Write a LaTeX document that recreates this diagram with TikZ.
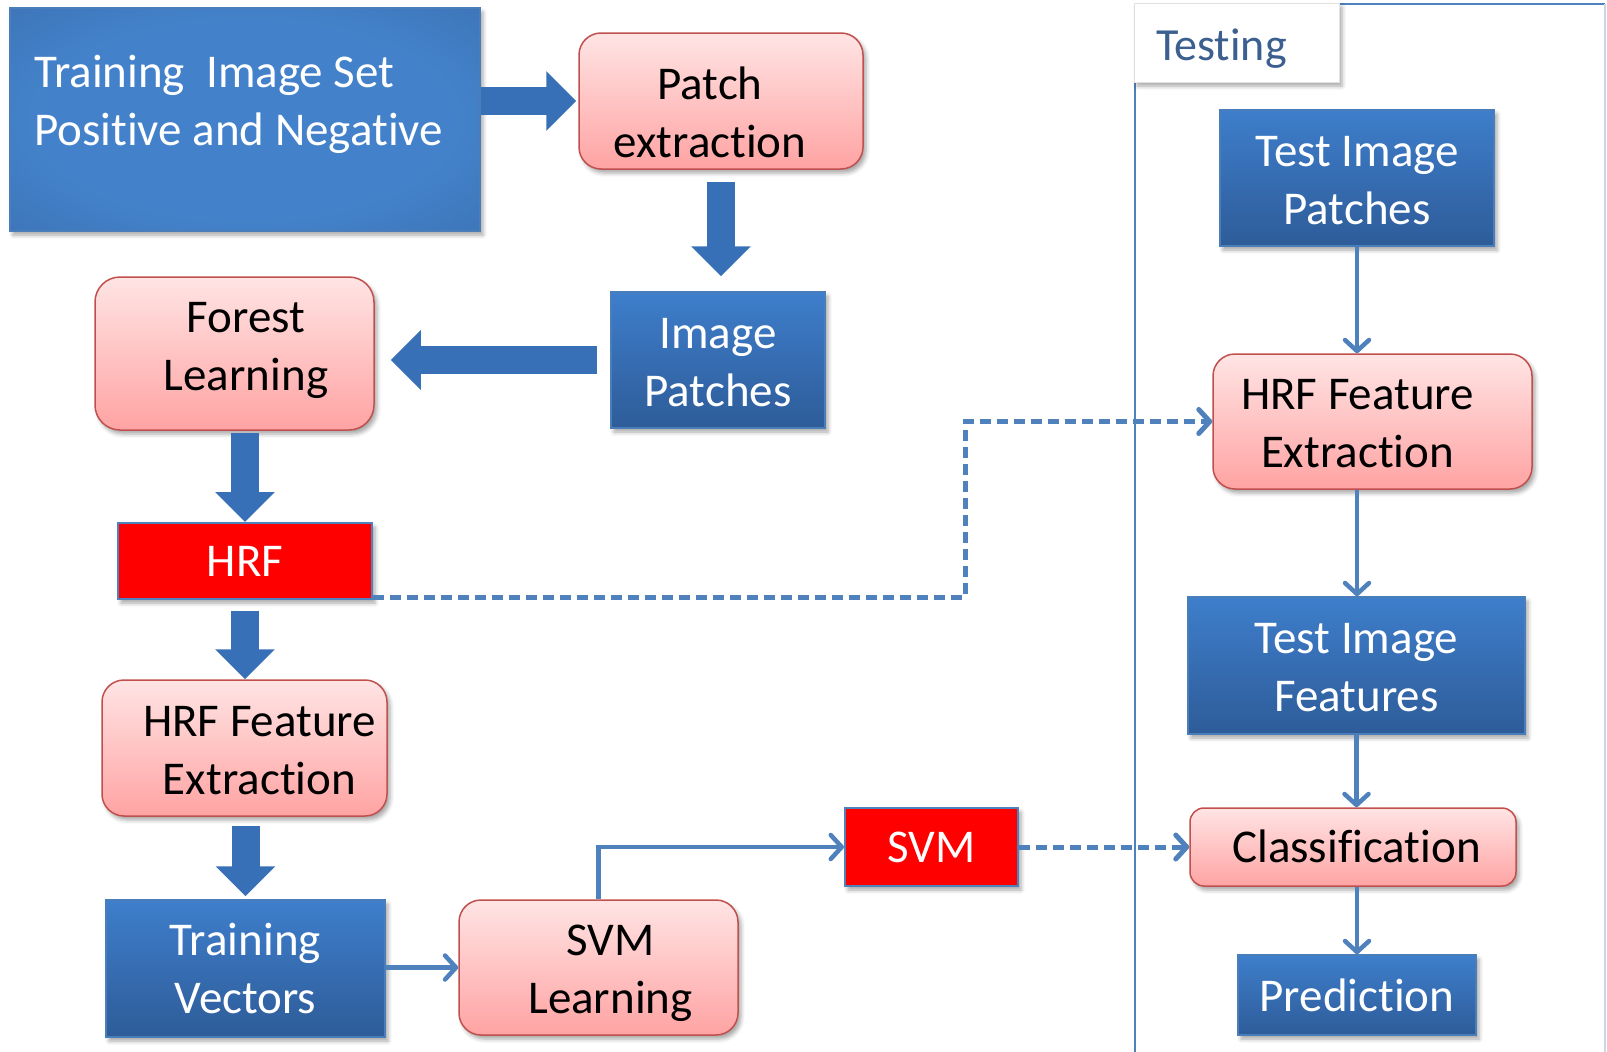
\documentclass[tikz,border=0pt]{standalone}
\usepackage{fontspec}
\setmainfont{Carlito}[RawFeature={-liga;-clig;-calt;-dlig}]
\usetikzlibrary{arrows.meta,calc,shadows.blur}
\definecolor{bluetop}{RGB}{62,126,203}
\definecolor{bluebot}{RGB}{46,92,153}
\definecolor{blueedge}{RGB}{74,126,187}
\definecolor{pinktop}{RGB}{255,228,228}
\definecolor{pinkbot}{RGB}{255,163,163}
\definecolor{pinkedge}{RGB}{192,80,77}
\definecolor{conn}{RGB}{79,129,189}
\definecolor{blk}{RGB}{56,112,184}
\definecolor{testtxt}{RGB}{59,95,143}
\definecolor{trainmid}{RGB}{67,130,202}
\definecolor{trainedge}{RGB}{56,104,166}
\definecolor{frameright}{RGB}{205,214,228}
\pgfdeclareradialshading{trainshade}{\pgfpoint{0bp}{0bp}}{color(0bp)=(trainmid); color(22bp)=(trainmid); color(50bp)=(trainedge); color(75bp)=(trainedge)}
\newcommand\bx[3]{\hspace*{#1}\hspace*{#1}\raisebox{-#2}[\height][\depth]{\begin{tabular}{@{}c@{}}#3\end{tabular}}}
\newcommand\bxl[3]{\hspace*{#1}\hspace*{#1}\raisebox{-#2}[\height][\depth]{\begin{tabular}{@{}l@{}}#3\end{tabular}}}
\tikzset{
  boxbase/.style={font=\fontsize{47}{58}\selectfont, inner sep=0pt, rectangle,
    blur shadow={shadow xshift=3pt, shadow yshift=-4pt, shadow blur radius=4pt, shadow opacity=35}},
  bluebox/.style={boxbase, draw=blueedge, line width=1.5pt, top color=bluetop, bottom color=bluebot, text=white},
  trainbox/.style={boxbase, draw=blueedge, line width=1.5pt, shading=trainshade, text=white},
  pinkbox/.style={boxbase, rounded corners=22pt, draw=pinkedge, line width=1.5pt, top color=pinktop, bottom color=pinkbot, text=black},
  redbox/.style={boxbase, draw=conn, line width=2pt, fill=red, text=white},
  labelbox/.style={boxbase, draw={rgb,255:red,225;green,225;blue,225}, line width=1pt, fill=white, text=testtxt, font=\fontsize{46}{58}\selectfont},
  blkarrow/.style={draw=blk, line width=28pt, -{Triangle[width=58pt,length=30pt]}},
  thinarrow/.style={draw=conn, line width=4.5pt, -{Straight Barb[length=11pt,width=24pt,line cap=round,line join=round]}},
  dasharrow/.style={thinarrow, line width=5pt, dash pattern=on 11pt off 6pt},
}
\begin{document}
\begin{tikzpicture}[x=1pt,y=-1pt]
\useasboundingbox (0,0) rectangle (1607,1052);
% testing frame
\draw[conn, line width=2.5pt] (1135,1060) -- (1135,4) -- (1605,4);
\draw[frameright, line width=1.5pt] (1605,4) -- (1605,1060);
% nodes
\node[trainbox, minimum width=470pt, minimum height=223pt] (train) at (245,119.5) {\bxl{-6.5pt}{-15pt}{Training\ \ Image Set\\Positive and Negative}};
\node[pinkbox, minimum width=284pt, minimum height=136pt] (patch) at (721,101) {\bx{-11pt}{15.5pt}{Patch\\extraction}};
\node[bluebox, minimum width=214pt, minimum height=136pt] (imgp) at (718,360) {\bx{0pt}{5.5pt}{Image\\Patches}};
\node[pinkbox, minimum width=279pt, minimum height=153pt, rounded corners=25pt] (forest) at (234.5,353.5) {\bx{11.5pt}{-3.5pt}{Forest\\Learning}};
\node[redbox, minimum width=254pt, minimum height=76pt] (hrf) at (245,561) {\bx{0pt}{4pt}{HRF}};
\node[pinkbox, minimum width=285pt, minimum height=136pt] (hrfl) at (244.5,748) {\bx{15pt}{6pt}{HRF Feature\\Extraction}};
\node[bluebox, minimum width=279pt, minimum height=137pt] (tv) at (245.5,968.5) {\bx{0pt}{4pt}{Training\\Vectors}};
\node[pinkbox, minimum width=279pt, minimum height=135pt] (svml) at (598.5,967.5) {\bx{12pt}{5pt}{SVM\\Learning}};
\node[redbox, minimum width=173pt, minimum height=78pt] (svm) at (931.5,847) {\bx{0pt}{4pt}{SVM}};
\node[labelbox, minimum width=205pt, minimum height=79pt] (testing) at (1236.5,42.5) {\bx{-15pt}{6pt}{Testing}};
\node[bluebox, minimum width=274pt, minimum height=136pt] (tip) at (1357,178) {\bx{0pt}{5.4pt}{Test Image\\Patches}};
\node[pinkbox, minimum width=319pt, minimum height=135pt] (hrfr) at (1372.5,421.5) {\bx{-15pt}{5pt}{HRF Feature\\Extraction}};
\node[bluebox, minimum width=337pt, minimum height=137pt] (tif) at (1356.5,665.5) {\bx{0pt}{5pt}{Test Image\\Features}};
\node[pinkbox, minimum width=326pt, minimum height=78pt, rounded corners=14pt] (cls) at (1353,847) {\bx{3.5pt}{4pt}{Classification}};
\node[bluebox, minimum width=238pt, minimum height=80pt] (pred) at (1357,995) {\bx{0pt}{4.6pt}{Prediction}};
% block arrows
\draw[blkarrow, shorten >=2pt] (train.east |- patch.west) -- (patch.west);
\draw[blkarrow, shorten <=12pt, shorten >=15pt] (patch.south) -- (patch.south |- imgp.north);
\draw[blkarrow, shorten <=13pt, shorten >=16pt] (imgp.west) -- (imgp.west -| forest.east);
\draw[blkarrow, shorten <=2pt] (hrf.north |- forest.south) -- (hrf.north);
\draw[blkarrow, shorten <=11pt] (hrf.south) -- (hrf.south |- hrfl.north);
\draw[blkarrow, shorten <=9pt, shorten >=3pt] (tv.north |- hrfl.south) -- (tv.north);
% thin connectors
\draw[thinarrow] (tip.south) -- (tip.south |- hrfr.north);
\draw[thinarrow] (tip.south |- hrfr.south) -- (tip.south |- tif.north);
\draw[thinarrow] (tif.south) -- (tif.south |- cls.north);
\draw[thinarrow] (pred.north |- cls.south) -- (pred.north);
\draw[thinarrow] (tv.east |- svml.west) -- (svml.west);
\draw[thinarrow] (svml.north) |- (svm.west);
\draw[dasharrow] (svm.east) -- (cls.west);
\coordinate (dk) at (965,0);
\draw[dasharrow] ($(hrf.south east)+(0,-3)$) -| (dk |- hrfr.west) -- (hrfr.west);
\end{tikzpicture}
\end{document}
